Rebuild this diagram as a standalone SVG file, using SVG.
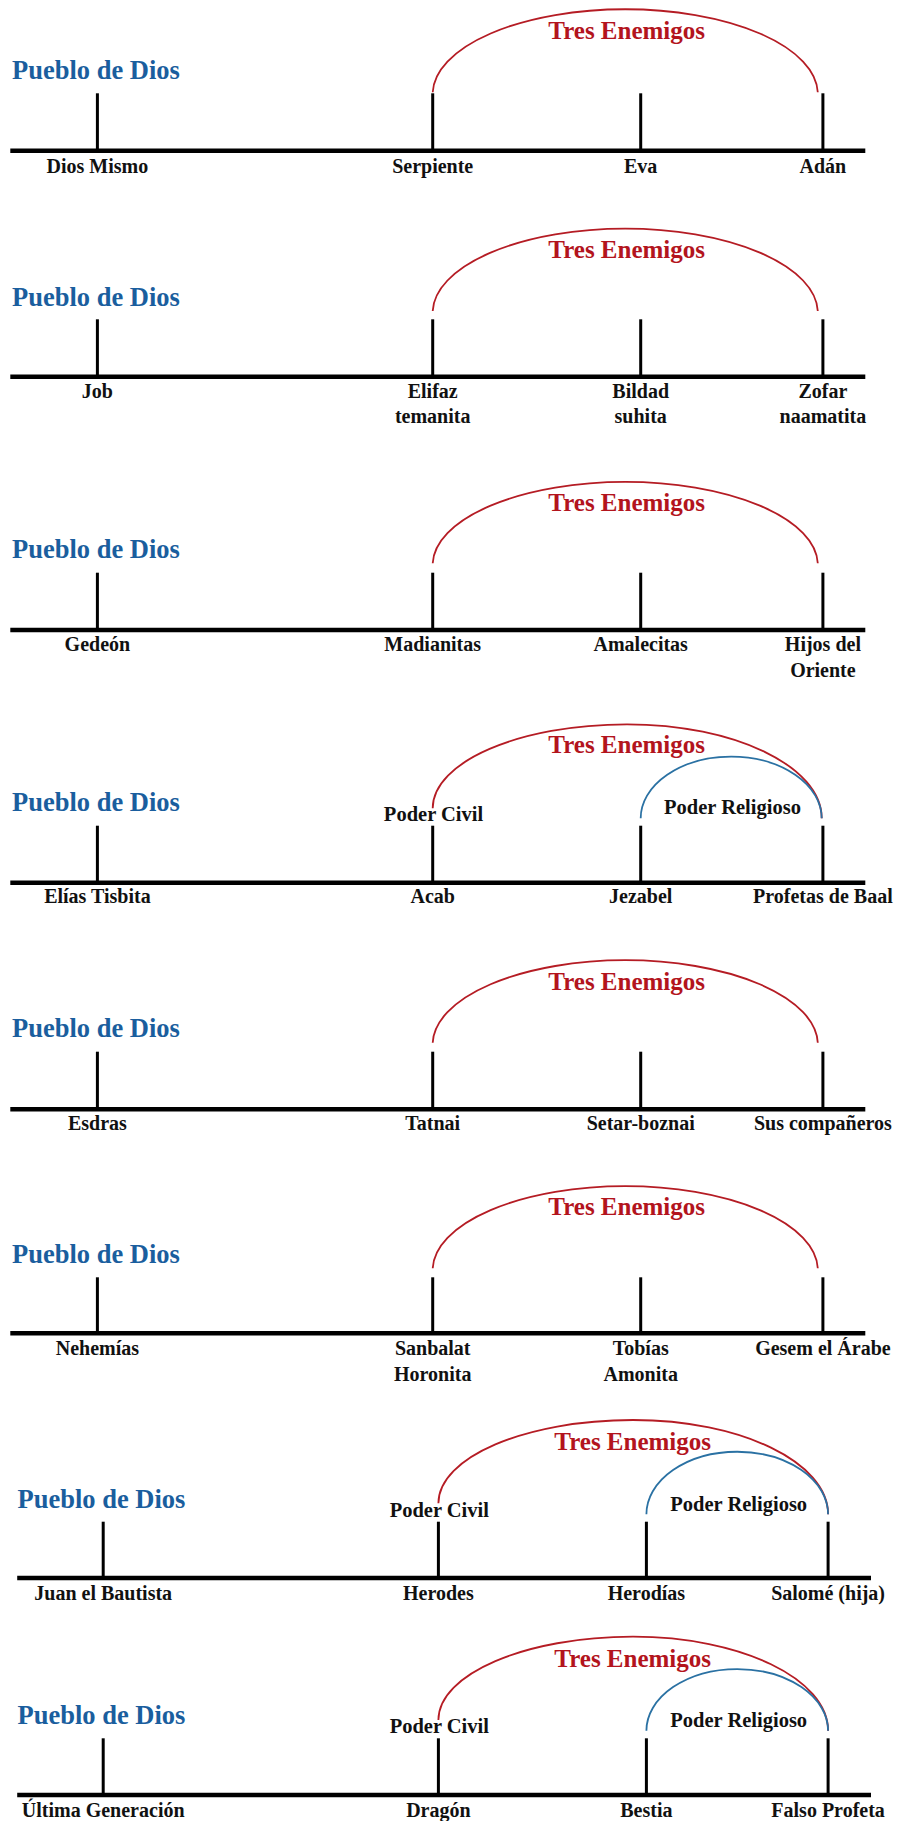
<svg xmlns="http://www.w3.org/2000/svg" width="898" height="1821" viewBox="0 0 898 1821">
<style>
  .axis { stroke: #000; stroke-width: 4.5; }
  .tick { stroke: #000; stroke-width: 3; }
  .lbl { font-family: "Liberation Serif", "Times New Roman", serif; font-weight: bold; font-size: 20px; fill: #111; text-anchor: middle; }
  .pow { font-family: "Liberation Serif", "Times New Roman", serif; font-weight: bold; font-size: 20.5px; fill: #111; text-anchor: middle; }
  .pueblo { font-family: "Liberation Serif", "Times New Roman", serif; font-weight: bold; font-size: 26.5px; fill: #1a5e9e; }
  .tres { font-family: "Liberation Serif", "Times New Roman", serif; font-weight: bold; font-size: 25px; fill: #b3141d; text-anchor: middle; }
  .red { fill: none; stroke: #b51c24; stroke-width: 1.8; }
  .blue { fill: none; stroke: #2a71a3; stroke-width: 1.8; }
</style>
<rect width="898" height="1821" fill="#fff"/>

<!-- Panel 1 -->
<g id="panel1">
  <g id="p1-pueblo"><text class="pueblo" x="12" y="79.3">Pueblo de Dios</text></g>
  <line class="axis" x1="10.3" y1="150.8" x2="865.3" y2="150.8"/>
  <g id="p1-n1"><line class="tick" x1="97.4" y1="93.3" x2="97.4" y2="150.8"/><text class="lbl" x="97.4" y="172.7">Dios Mismo</text></g>
  <g id="p1-n2"><line class="tick" x1="432.7" y1="93.3" x2="432.7" y2="150.8"/><text class="lbl" x="432.7" y="172.7">Serpiente</text></g>
  <g id="p1-n3"><line class="tick" x1="640.7" y1="93.3" x2="640.7" y2="150.8"/><text class="lbl" x="640.7" y="172.7">Eva</text></g>
  <g id="p1-n4"><line class="tick" x1="822.9" y1="93.3" x2="822.9" y2="150.8"/><text class="lbl" x="822.9" y="172.7">Adán</text></g>
  <g id="p1-tres"><text class="tres" x="626.7" y="39">Tres Enemigos</text></g>
</g>

<!-- Panel 2 -->
<g id="panel2">
  <g id="p2-pueblo"><text class="pueblo" x="12" y="306">Pueblo de Dios</text></g>
  <line class="axis" x1="10.3" y1="376.7" x2="865.3" y2="376.7"/>
  <g id="p2-n1"><line class="tick" x1="97.4" y1="319.3" x2="97.4" y2="376.7"/><text class="lbl" x="97.4" y="398.3">Job</text></g>
  <g id="p2-n2"><line class="tick" x1="432.7" y1="319.3" x2="432.7" y2="376.7"/><text class="lbl" x="432.7" y="398.3">Elifaz</text><text class="lbl" x="432.7" y="423.3">temanita</text></g>
  <g id="p2-n3"><line class="tick" x1="640.7" y1="319.3" x2="640.7" y2="376.7"/><text class="lbl" x="640.7" y="398.3">Bildad</text><text class="lbl" x="640.7" y="423.3">suhita</text></g>
  <g id="p2-n4"><line class="tick" x1="822.9" y1="319.3" x2="822.9" y2="376.7"/><text class="lbl" x="822.9" y="398.3">Zofar</text><text class="lbl" x="822.9" y="423.3">naamatita</text></g>
  <g id="p2-tres"><text class="tres" x="626.7" y="257.5">Tres Enemigos</text></g>
</g>

<!-- Panel 3 -->
<g id="panel3">
  <g id="p3-pueblo"><text class="pueblo" x="12" y="558.3">Pueblo de Dios</text></g>
  <line class="axis" x1="10.3" y1="630" x2="865.3" y2="630"/>
  <g id="p3-n1"><line class="tick" x1="97.4" y1="572.7" x2="97.4" y2="630"/><text class="lbl" x="97.4" y="651">Gedeón</text></g>
  <g id="p3-n2"><line class="tick" x1="432.7" y1="572.7" x2="432.7" y2="630"/><text class="lbl" x="432.7" y="651">Madianitas</text></g>
  <g id="p3-n3"><line class="tick" x1="640.7" y1="572.7" x2="640.7" y2="630"/><text class="lbl" x="640.7" y="651">Amalecitas</text></g>
  <g id="p3-n4"><line class="tick" x1="822.9" y1="572.7" x2="822.9" y2="630"/><text class="lbl" x="822.9" y="651">Hijos del</text><text class="lbl" x="822.9" y="676.7">Oriente</text></g>
  <g id="p3-tres"><text class="tres" x="626.7" y="511">Tres Enemigos</text></g>
</g>

<!-- Panel 4 -->
<g id="panel4">
  <g id="p4-pueblo"><text class="pueblo" x="12" y="810.7">Pueblo de Dios</text></g>
  <line class="axis" x1="10.3" y1="882.7" x2="865.3" y2="882.7"/>
  <g id="p4-n1"><line class="tick" x1="97.4" y1="825.7" x2="97.4" y2="882.7"/><text class="lbl" x="97.4" y="902.7">Elías Tisbita</text></g>
  <g id="p4-n2"><line class="tick" x1="432.7" y1="825.7" x2="432.7" y2="882.7"/><text class="lbl" x="432.7" y="902.7">Acab</text></g>
  <g id="p4-n3"><line class="tick" x1="640.7" y1="825.7" x2="640.7" y2="882.7"/><text class="lbl" x="640.7" y="902.7">Jezabel</text></g>
  <g id="p4-n4"><line class="tick" x1="822.9" y1="825.7" x2="822.9" y2="882.7"/><text class="lbl" x="822.9" y="902.7">Profetas de Baal</text></g>
  <g id="p4-tres"><text class="tres" x="626.7" y="753.3">Tres Enemigos</text></g>
  <g id="p4-civil"><text class="pow" x="433.5" y="821">Poder Civil</text></g>
  <g id="p4-relig"><text class="pow" x="732.5" y="814.3">Poder Religioso</text></g>
</g>

<!-- Panel 5 -->
<g id="panel5">
  <g id="p5-pueblo"><text class="pueblo" x="12" y="1036.7">Pueblo de Dios</text></g>
  <line class="axis" x1="10.3" y1="1109.3" x2="865.3" y2="1109.3"/>
  <g id="p5-n1"><line class="tick" x1="97.4" y1="1051.7" x2="97.4" y2="1109.3"/><text class="lbl" x="97.4" y="1129.8">Esdras</text></g>
  <g id="p5-n2"><line class="tick" x1="432.7" y1="1051.7" x2="432.7" y2="1109.3"/><text class="lbl" x="432.7" y="1129.8">Tatnai</text></g>
  <g id="p5-n3"><line class="tick" x1="640.7" y1="1051.7" x2="640.7" y2="1109.3"/><text class="lbl" x="640.7" y="1129.8">Setar-boznai</text></g>
  <g id="p5-n4"><line class="tick" x1="822.9" y1="1051.7" x2="822.9" y2="1109.3"/><text class="lbl" x="822.9" y="1129.8">Sus compañeros</text></g>
  <g id="p5-tres"><text class="tres" x="626.7" y="989.5">Tres Enemigos</text></g>
</g>

<!-- Panel 6 -->
<g id="panel6">
  <g id="p6-pueblo"><text class="pueblo" x="12" y="1262.7">Pueblo de Dios</text></g>
  <line class="axis" x1="10.3" y1="1333.3" x2="865.3" y2="1333.3"/>
  <g id="p6-n1"><line class="tick" x1="97.4" y1="1277.3" x2="97.4" y2="1333.3"/><text class="lbl" x="97.4" y="1355">Nehemías</text></g>
  <g id="p6-n2"><line class="tick" x1="432.7" y1="1277.3" x2="432.7" y2="1333.3"/><text class="lbl" x="432.7" y="1355">Sanbalat</text><text class="lbl" x="432.7" y="1380.7">Horonita</text></g>
  <g id="p6-n3"><line class="tick" x1="640.7" y1="1277.3" x2="640.7" y2="1333.3"/><text class="lbl" x="640.7" y="1355">Tobías</text><text class="lbl" x="640.7" y="1380.7">Amonita</text></g>
  <g id="p6-n4"><line class="tick" x1="822.9" y1="1277.3" x2="822.9" y2="1333.3"/><text class="lbl" x="822.9" y="1355">Gesem el Árabe</text></g>
  <g id="p6-tres"><text class="tres" x="626.7" y="1215">Tres Enemigos</text></g>
</g>

<!-- Panel 7 -->
<g id="panel7">
  <g id="p7-pueblo"><text class="pueblo" x="17.5" y="1507.7">Pueblo de Dios</text></g>
  <line class="axis" x1="17.2" y1="1578" x2="871" y2="1578"/>
  <g id="p7-n1"><line class="tick" x1="103.2" y1="1521.7" x2="103.2" y2="1578"/><text class="lbl" x="103.2" y="1600">Juan el Bautista</text></g>
  <g id="p7-n2"><line class="tick" x1="438.4" y1="1521.7" x2="438.4" y2="1578"/><text class="lbl" x="438.4" y="1600">Herodes</text></g>
  <g id="p7-n3"><line class="tick" x1="646.4" y1="1521.7" x2="646.4" y2="1578"/><text class="lbl" x="646.4" y="1600">Herodías</text></g>
  <g id="p7-n4"><line class="tick" x1="828.1" y1="1521.7" x2="828.1" y2="1578"/><text class="lbl" x="828.1" y="1600">Salomé (hija)</text></g>
  <g id="p7-tres"><text class="tres" x="632.7" y="1450">Tres Enemigos</text></g>
  <g id="p7-civil"><text class="pow" x="439.3" y="1517.3">Poder Civil</text></g>
  <g id="p7-relig"><text class="pow" x="738.7" y="1511">Poder Religioso</text></g>
</g>

<!-- Panel 8 -->
<g id="panel8">
  <g id="p8-pueblo"><text class="pueblo" x="17.5" y="1724">Pueblo de Dios</text></g>
  <line class="axis" x1="17.2" y1="1795" x2="871" y2="1795"/>
  <g id="p8-n1"><line class="tick" x1="103.2" y1="1738.3" x2="103.2" y2="1795"/><text class="lbl" x="103.2" y="1816.7">Última Generación</text></g>
  <g id="p8-n2"><line class="tick" x1="438.4" y1="1738.3" x2="438.4" y2="1795"/><text class="lbl" x="438.4" y="1816.7">Dragón</text></g>
  <g id="p8-n3"><line class="tick" x1="646.4" y1="1738.3" x2="646.4" y2="1795"/><text class="lbl" x="646.4" y="1816.7">Bestia</text></g>
  <g id="p8-n4"><line class="tick" x1="828.1" y1="1738.3" x2="828.1" y2="1795"/><text class="lbl" x="828.1" y="1816.7">Falso Profeta</text></g>
  <g id="p8-tres"><text class="tres" x="632.7" y="1667.3">Tres Enemigos</text></g>
  <g id="p8-civil"><text class="pow" x="439.3" y="1733.3">Poder Civil</text></g>
  <g id="p8-relig"><text class="pow" x="738.7" y="1726.7">Poder Religioso</text></g>
</g>

<!-- Connectors (arcs) -->
<g id="connectors">
  <path class="red" d="M432.7,92.3 A192.6,85 0 0 1 817.8,92.3"/>
  <path class="red" d="M432.7,311 A192.6,84.3 0 0 1 817.8,311"/>
  <path class="red" d="M432.7,563.3 A192.6,83.3 0 0 1 817.8,563.3"/>
  <path class="red" d="M432.7,808.3 C432.7,761.9 519.7,724.3 627,724.3 C734.5,724.3 821.7,766.4 821.7,818.3"/>
  <path class="blue" d="M640.7,818.3 A90.5,61.6 0 0 1 821.7,818.3"/>
  <path class="red" d="M432.7,1042.7 A192.6,84.4 0 0 1 817.8,1042.7"/>
  <path class="red" d="M432.7,1268.3 A192.6,84 0 0 1 817.8,1268.3"/>
  <path class="red" d="M438.4,1503.3 C438.4,1457.3 525.5,1420 633,1420 C740.8,1420 828.1,1462.2 828.1,1514.3"/>
  <path class="blue" d="M646.4,1514.3 A90.85,62.6 0 0 1 828.1,1514.3"/>
  <path class="red" d="M438.4,1720 C438.4,1674 525.5,1636.7 633,1636.7 C740.8,1636.7 828.1,1678.8 828.1,1730.7"/>
  <path class="blue" d="M646.4,1730.7 A90.85,61.7 0 0 1 828.1,1730.7"/>
</g>
</svg>
